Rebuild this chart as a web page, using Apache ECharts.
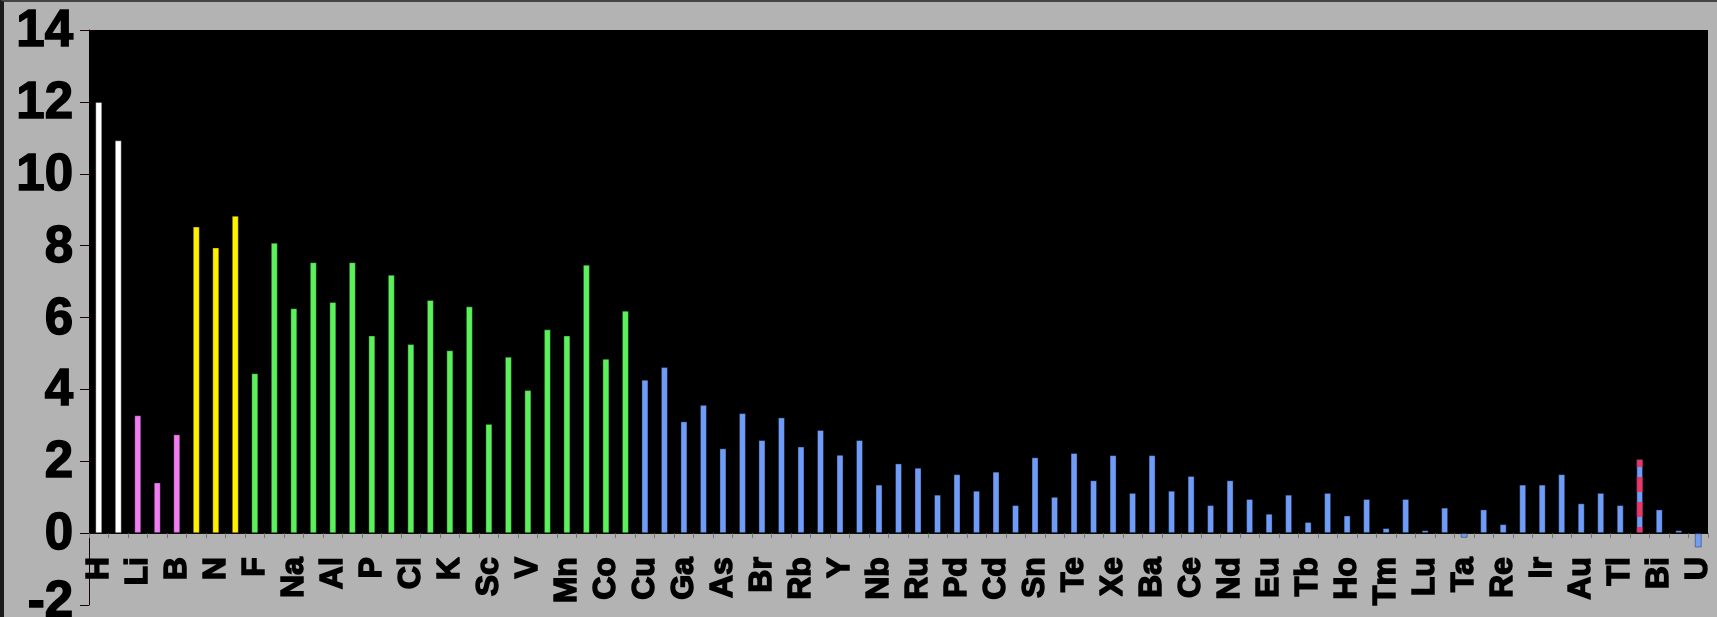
<!DOCTYPE html>
<html>
<head>
<meta charset="utf-8">
<script src="https://cdn.jsdelivr.net/npm/echarts@6/dist/echarts.min.js"></script>
<style>
  html, body { margin: 0; padding: 0; background: #b3b3b3; }
  #wrap { width: 1717px; height: 617px; box-sizing: border-box; border-left: 4px solid #1a1a1a; border-top: 2px solid #444; background: #b3b3b3; }
  #chart { width: 1713px; height: 615px; }
</style>
</head>
<body>
<div id="wrap"><div id="chart"></div></div>
<script>
// element symbols, in order (Tc, Pm, Po..Ac, Pa are missing)
const elements = [
  'H', 'He', 'Li', 'Be', 'B', 'C', 'N', 'O', 'F', 'Ne',
  'Na', 'Mg', 'Al', 'Si', 'P', 'S', 'Cl', 'Ar', 'K', 'Ca',
  'Sc', 'Ti', 'V', 'Cr', 'Mn', 'Fe', 'Co', 'Ni', 'Cu', 'Zn',
  'Ga', 'Ge', 'As', 'Se', 'Br', 'Kr', 'Rb', 'Sr', 'Y', 'Zr',
  'Nb', 'Mo', 'Ru', 'Rh', 'Pd', 'Ag', 'Cd', 'In', 'Sn', 'Sb',
  'Te', 'I', 'Xe', 'Cs', 'Ba', 'La', 'Ce', 'Pr', 'Nd', 'Sm',
  'Eu', 'Gd', 'Tb', 'Dy', 'Ho', 'Er', 'Tm', 'Yb', 'Lu', 'Hf',
  'Ta', 'W', 'Re', 'Os', 'Ir', 'Pt', 'Au', 'Hg', 'Tl', 'Pb',
  'Bi', 'Th', 'U'
];

// log abundance
const abundance = [
  12.0, 10.93, 3.28, 1.41, 2.75, 8.53, 7.95, 8.83, 4.45, 8.08,
  6.26, 7.54, 6.43, 7.54, 5.50, 7.19, 5.26, 6.49, 5.09, 6.31,
  3.04, 4.91, 3.98, 5.67, 5.50, 7.47, 4.85, 6.19, 4.27, 4.62,
  3.11, 3.57, 2.36, 3.34, 2.59, 3.22, 2.41, 2.87, 2.18, 2.59,
  1.35, 1.94, 1.82, 1.07, 1.64, 1.18, 1.71, 0.78, 2.11, 1.01,
  2.23, 1.47, 2.17, 1.12, 2.17, 1.18, 1.59, 0.78, 1.47, 0.95,
  0.54, 1.07, 0.31, 1.12, 0.49, 0.95, 0.14, 0.95, 0.08, 0.71,
  -0.13, 0.66, 0.25, 1.35, 1.35, 1.64, 0.83, 1.12, 0.78, 2.06,
  0.66, 0.08, -0.4
];

const whiteGroup = ['H', 'He'];
const pinkGroup = ['Li', 'Be', 'B'];
const yellowGroup = ['C', 'N', 'O'];
const greenGroup = ['F', 'Ne', 'Na', 'Mg', 'Al', 'Si', 'P', 'S', 'Cl', 'Ar',
  'K', 'Ca', 'Sc', 'Ti', 'V', 'Cr', 'Mn', 'Fe', 'Co', 'Ni'];
const stripedGroup = ['Pb'];

const yTicks = { min: -2, max: 14, interval: 2 };

const colorOf = (el) => {
  if (whiteGroup.includes(el)) return '#ffffff';
  if (pinkGroup.includes(el)) return '#f07ef0';
  if (yellowGroup.includes(el)) return '#fff000';
  if (greenGroup.includes(el)) return '#5cf05c';
  return '#6e9cf6';
};

const barData = elements.map((el, i) => {
  const item = {
    value: abundance[i],
    itemStyle: { color: colorOf(el) }
  };
  if (stripedGroup.includes(el)) {
    item.itemStyle.decal = {
      symbol: 'rect',
      symbolSize: 1,
      dashArrayX: [1, 0],
      dashArrayY: [15, 10],
      rotation: 0,
      color: '#e8386a'
    };
  }
  return item;
});

const chart = echarts.init(document.getElementById('chart'), null, { renderer: 'canvas' });

const gridTop = 28;
const gridBottom = 12;
const plotH = 615 - gridTop - gridBottom;
// x axis sits on the zero line, lifted up from the grid bottom
const zeroOffset = -plotH * (0 - yTicks.min) / (yTicks.max - yTicks.min);

const boldText = {
  color: '#000',
  fontFamily: 'Liberation Sans',
  fontWeight: 'bold',
  textBorderColor: '#000',
  textBorderWidth: 1.5
};

const option = {
  backgroundColor: '#b3b3b3',
  animation: false,
  grid: { left: 85, right: 9, top: gridTop, bottom: gridBottom, containLabel: false, outerBoundsMode: 'none' },
  xAxis: {
    type: 'category',
    data: elements,
    offset: zeroOffset,
    axisLine: { onZero: false, lineStyle: { color: '#111', width: 1 } },
    axisTick: { show: true, interval: 0, length: 5, lineStyle: { color: '#777' } },
    axisLabel: {
      ...boldText,
      interval: 1,
      rotate: 90,
      margin: 24,
      fontSize: 32
    }
  },
  yAxis: {
    type: 'value',
    min: yTicks.min,
    max: yTicks.max,
    interval: yTicks.interval,
    splitLine: { show: false },
    axisLine: { show: true, lineStyle: { color: '#1a0000', width: 1 } },
    axisTick: { show: true, length: 9, lineStyle: { color: '#1a0000' } },
    axisLabel: {
      ...boldText,
      margin: 16,
      fontSize: 51,
      padding: [4, 0, 0, 0],
      formatter: (v) => (v === yTicks.min ? '{low|' + v + '}' : String(v)),
      rich: {
        low: {
          ...boldText,
          fontSize: 51,
          padding: [0, 0, 8, 0]
        }
      }
    }
  },
  series: [
    {
      type: 'bar',
      data: barData,
      barWidth: 7,
      itemStyle: { borderColor: 'rgba(0,0,0,0.35)', borderWidth: 1 },
      markArea: {
        silent: true,
        itemStyle: { color: '#000' },
        data: [[{ yAxis: 0 }, { yAxis: 14 }]]
      }
    }
  ]
};

chart.setOption(option);
</script>
</body>
</html>
